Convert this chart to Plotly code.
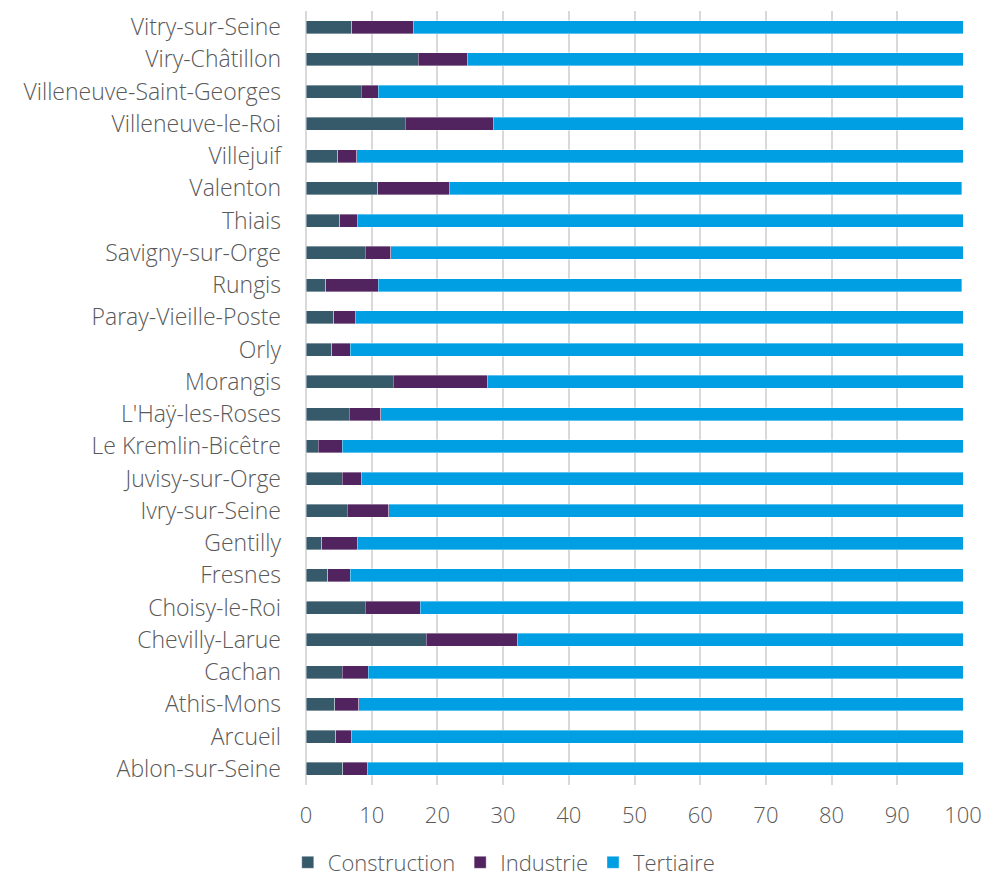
import plotly.graph_objects as go

communes = [
    "Vitry-sur-Seine", "Viry-Châtillon", "Villeneuve-Saint-Georges", "Villeneuve-le-Roi",
    "Villejuif", "Valenton", "Thiais", "Savigny-sur-Orge", "Rungis", "Paray-Vieille-Poste",
    "Orly", "Morangis", "L'Haÿ-les-Roses", "Le Kremlin-Bicêtre", "Juvisy-sur-Orge",
    "Ivry-sur-Seine", "Gentilly", "Fresnes", "Choisy-le-Roi", "Chevilly-Larue",
    "Cachan", "Athis-Mons", "Arcueil", "Ablon-sur-Seine",
]
construction = [7.0, 17.1, 8.4, 15.1, 4.8, 10.9, 5.1, 9.0, 3.0, 4.2, 3.9, 13.3,
                6.6, 1.9, 5.5, 6.3, 2.4, 3.3, 9.0, 18.3, 5.5, 4.4, 4.5, 5.6]
industrie = [9.4, 7.5, 2.6, 13.4, 2.9, 10.9, 2.7, 3.9, 8.0, 3.3, 2.8, 14.4,
             4.8, 3.6, 3.0, 6.3, 5.5, 3.4, 8.4, 13.9, 4.0, 3.6, 2.5, 3.8]
tertiaire = [83.6, 75.4, 89.0, 71.5, 92.3, 78.0, 92.2, 87.1, 88.8, 92.5, 93.3, 72.3,
             88.6, 94.5, 91.5, 87.4, 92.1, 93.3, 82.6, 67.8, 90.5, 92.0, 93.0, 90.6]

series = [("Construction", construction, "#375A6B"),
          ("Industrie", industrie, "#52245F"),
          ("Tertiaire", tertiaire, "#009FE3")]

FONT = "Open Sans, DejaVu Sans, sans-serif"
GREY = "#595959"

fig = go.Figure()
for name, vals, col in series:
    fig.add_trace(go.Bar(
        y=communes, x=vals, name=name, orientation="h",
        marker=dict(color=col, line=dict(color="rgba(255,255,255,0.6)", width=0.6)),
        width=0.4,
    ))

fig.update_layout(
    barmode="stack",
    width=983, height=879,
    margin=dict(l=306, r=20, t=11, b=94, autoexpand=False),
    paper_bgcolor="white", plot_bgcolor="white",
    font=dict(family=FONT, size=22, color=GREY, weight=300),
    xaxis=dict(range=[0, 100], dtick=10, tick0=0, showgrid=True, gridcolor="#D9D9D9",
               gridwidth=2, zeroline=True, zerolinecolor="#D9D9D9", zerolinewidth=2,
               showline=False, ticks="", automargin=False,
               tickfont=dict(family=FONT, size=22, color=GREY, weight=300),
               ticklabelstandoff=15),
    yaxis=dict(categoryorder="array", categoryarray=communes[::-1],
               showgrid=False, showline=False, ticks="", automargin=False,
               ticklabelstandoff=24,
               tickfont=dict(family=FONT, size=23, color=GREY, weight=300)),
    legend=dict(orientation="h", xref="container", x=0.513, xanchor="center",
                yref="paper", y=-0.073, yanchor="top",
                font=dict(family=FONT, size=22, color=GREY, weight=300),
                traceorder="normal", itemwidth=30),
    bargap=0.6,
)

fig.write_html(
    "out.html",
    config={"displayModeBar": False},
    post_script="document.body.style.margin='0';document.body.style.overflow='hidden';",
)
